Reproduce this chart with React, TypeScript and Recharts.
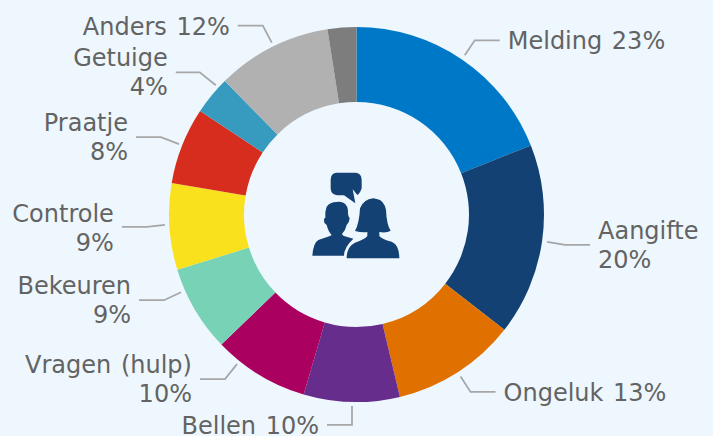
import React from "react";
import { PieChart, Pie, Cell } from "recharts";

const categories = ["Melding", "Aangifte", "Ongeluk", "Bellen", "Vragen (hulp)", "Bekeuren", "Controle", "Praatje", "Getuige", "Anders", "Overig"];
const values = [23, 20, 13, 10, 10, 9, 9, 8, 4, 12, 3];
const labelLines = [
  ["Melding 23%"],
  ["Aangifte", "20%"],
  ["Ongeluk 13%"],
  ["Bellen 10%"],
  ["Vragen (hulp)", "10%"],
  ["Bekeuren", "9%"],
  ["Controle", "9%"],
  ["Praatje", "8%"],
  ["Getuige", "4%"],
  ["Anders 12%"],
  [],
];
const colors = ["#0078C8", "#144173", "#E07000", "#662D8C", "#AA005F", "#78D2B6", "#FAE11E", "#D72D1E", "#369BBE", "#B1B1B1", "#7D7D7D"];

const rows = categories.map((name, i) => ({ name, value: values[i] }));

// Leader offsets per label: start shift from the slice's edge point, elbow from start, horizontal run.
const leader = [
  { sx: 0, sy: 0, ex: 10, ey: -15, hx: 25, ty: 0 },
  { sx: 0, sy: 0, ex: 18, ey: 3, hx: 25, ty: 0 },
  { sx: 0, sy: 0, ex: 10, ey: 15.5, hx: 25, ty: 0 },
  { sx: 0.5, sy: -1, ex: 0, ey: 19, hx: -25, ty: 0 },
  { sx: -19.7, sy: -15, ex: -12, ey: 15, hx: -25, ty: 0 },
  { sx: -9.6, sy: -20, ex: -17, ey: 8, hx: -25, ty: 0 },
  { sx: 0.5, sy: -2, ex: -18, ey: 2, hx: -25, ty: 1 },
  { sx: 1.5, sy: 0.4, ex: -18, ey: -7, hx: -25, ty: 0 },
  { sx: 8, sy: -7, ex: -16, ey: -13, hx: -24, ty: 0 },
  { sx: 2, sy: 0, ex: -9, ey: -17, hx: -25, ty: 0 },
];

const RAD = Math.PI / 180;
const startPoint = (p: any, l: any) => ({
  x: p.cx + (p.outerRadius + 5) * Math.cos(-p.midAngle * RAD) + l.sx,
  y: p.cy + (p.outerRadius + 5) * Math.sin(-p.midAngle * RAD) + l.sy,
});

const renderLine = (p: any) => {
  const l = leader[p.index];
  if (!l) return <g key={p.index} />;
  const a = startPoint(p, l);
  const pts = `${a.x},${a.y} ${a.x + l.ex},${a.y + l.ey} ${a.x + l.ex + l.hx},${a.y + l.ey}`;
  return <polyline key={p.index} points={pts} fill="none" stroke="#A6A6A6" strokeWidth={1.75} />;
};

const renderLabel = (p: any) => {
  const l = leader[p.index];
  if (!l) return <g key={p.index} />;
  const a = startPoint(p, l);
  const right = l.hx > 0;
  const tx = a.x + l.ex + l.hx + (right ? 8 : -8);
  const lines = labelLines[p.index];
  const y0 = a.y + l.ey + l.ty + (lines.length > 1 ? -6 : 9);
  return (
    <text key={p.index} textAnchor={right ? "start" : "end"} fontFamily="'DejaVu Sans'" fontSize={24} wordSpacing={2} fill="#636363">
      {lines.map((t: string, i: number) => (
        <tspan key={i} x={tx} y={y0 + i * 29}>{t}</tspan>
      ))}
    </text>
  );
};

const Icon = () => (
  <svg width={150} height={130} viewBox="0 0 450 390" style={{ position: "absolute", left: 280, top: 150 }}>
    <g fill="#144173">
      <path d="M168 68 L228 68 Q245 70 245 90 L245 115 Q240 130 232 135 L218 118 L226 160 L192 136 L172 136 Q152 134 152 115 L152 90 Q152 70 168 68 Z" />
      <path d="M170 156 Q150 156 140 170 Q134 185 136 203 Q130 205 133 218 Q137 222 140 225 Q145 245 155 255 L150 258 L115 270 Q100 278 97 317 L192 317 Q192 292 220 266 L192 258 Q188 256 186 252 Q197 240 200 225 Q208 218 209 205 Q204 200 204 190 Q205 165 190 158 Q180 154 170 156 Z" />
      <path d="M280 145 Q250 148 240 175 Q238 220 225 243 Q245 248 262 246 L262 258 Q255 268 225 278 Q200 290 200 325 L358 325 Q358 285 335 275 Q305 268 298 258 L298 246 Q320 250 332 242 Q320 225 318 180 Q312 150 290 147 Z" />
    </g>
  </svg>
);

export default function App() {
  return (
    <div style={{ position: "absolute", left: 0, top: 0, width: 713, height: 436, background: "#EEF7FD", overflow: "hidden" }}>
      <PieChart width={713} height={436} margin={{ top: 0, right: 0, bottom: 0, left: 0 }}>
        <Pie
          data={rows}
          dataKey="value"
          nameKey="name"
          cx={356.5}
          cy={214.5}
          innerRadius={112.5}
          outerRadius={187.5}
          startAngle={90}
          endAngle={-270}
          stroke="none"
          isAnimationActive={false}
          label={renderLabel}
          labelLine={renderLine}
        >
          {rows.map((r, i) => (
            <Cell key={r.name} fill={colors[i]} />
          ))}
        </Pie>
      </PieChart>
      <Icon />
    </div>
  );
}
